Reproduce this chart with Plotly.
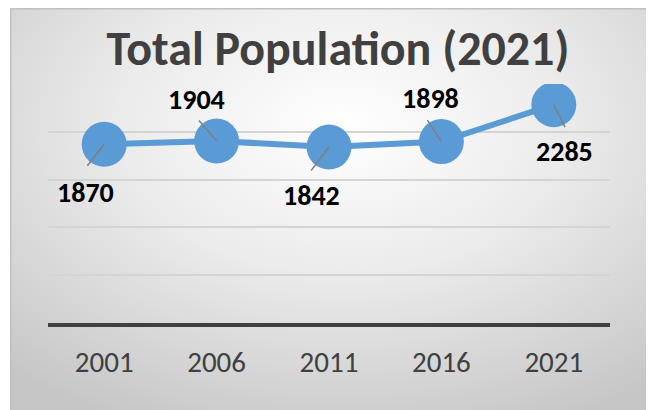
import plotly.graph_objects as go
import urllib.parse

years = ["2001", "2006", "2011", "2016", "2021"]
population = [1870, 1904, 1842, 1898, 2285]
# label offsets (px) from each point
label_dx = [-19, -20, -18, -11, 11]
label_dy = [48, -42, 49, -43, 47]
# leader-line tail offsets (px) from each point
leader_dx = [-18, -19, -19, -15, 12]
leader_dy = [23, -22, 25, -23, 24]

# page body has an 8px margin, so the figure is drawn from (8, 8) of the window
W, H = 646, 402
L, R, T, B = 40, 44, 76, 87
pw, ph = W - L - R, H - T - B

def px_x(p):
    return (p - L) / pw

def px_y(p):
    return (H - B - p) / ph

svg = (
    "<svg xmlns='http://www.w3.org/2000/svg' width='640' height='410' viewBox='0 0 640 410' preserveAspectRatio='none'>"
    "<defs><radialGradient id='g' cx='0.52' cy='0.28' r='0.78' gradientUnits='objectBoundingBox'>"
    "<stop offset='0' stop-color='#ffffff'/><stop offset='0.45' stop-color='#ebebeb'/>"
    "<stop offset='1' stop-color='#c6c6c6'/></radialGradient></defs>"
    "<rect x='0.75' y='0.75' width='638.5' height='420' fill='url(#g)' stroke='#c0c0c0' stroke-width='1.5'/></svg>"
)
src = "data:image/svg+xml;charset=utf-8," + urllib.parse.quote(svg)

FONT = "Carlito, Calibri, Lato, sans-serif"

fig = go.Figure()
fig.add_trace(go.Scatter(
    x=years, y=population, mode="lines+markers",
    line=dict(color="#5b9bd5", width=6),
    marker=dict(size=45, color="#5b9bd5"),
    hoverinfo="skip", showlegend=False,
))

annotations = []
for i, v in enumerate(population):
    annotations.append(dict(
        x=i, y=v, xref="x", yref="y", text="",
        showarrow=True, arrowhead=0, arrowwidth=1.5, arrowcolor="#7f7f7f",
        ax=leader_dx[i], ay=leader_dy[i], standoff=0, startstandoff=0,
    ))
    annotations.append(dict(
        x=i, y=v, xref="x", yref="y", text="<b>%d</b>" % v,
        showarrow=False, xshift=label_dx[i], yshift=-label_dy[i],
        font=dict(family=FONT, size=28, color="#000000"),
    ))

fig.update_layout(
    width=W, height=H,
    margin=dict(l=L, r=R, t=T, b=B, pad=0),
    paper_bgcolor="white", plot_bgcolor="rgba(0,0,0,0)",
    title=dict(
        text="<b>Total Population (2021)</b>",
        x=px_x(330), xref="paper", xanchor="center",
        y=1 - 40 / H, yref="container", yanchor="middle",
        font=dict(family=FONT, size=48, color="#404040"),
    ),
    xaxis=dict(
        type="category", range=[-0.5, 4.5], showgrid=False,
        showline=True, linecolor="#404040", linewidth=3.5,
        ticks="", ticklabelstandoff=10,
        tickfont=dict(family=FONT, size=29, color="#404040"),
        fixedrange=True,
    ),
    yaxis=dict(
        range=[0, 2501], dtick=500, showgrid=True, gridcolor="#d4d4d4", gridwidth=1.5,
        zeroline=False, showticklabels=False, fixedrange=True,
    ),
    images=[dict(
        source=src, xref="paper", yref="paper",
        x=px_x(2), y=px_y(0), sizex=640 / pw, sizey=410 / ph,
        xanchor="left", yanchor="top", sizing="stretch", layer="below",
    )],
    annotations=annotations,
)

fig.write_html("out.html")
